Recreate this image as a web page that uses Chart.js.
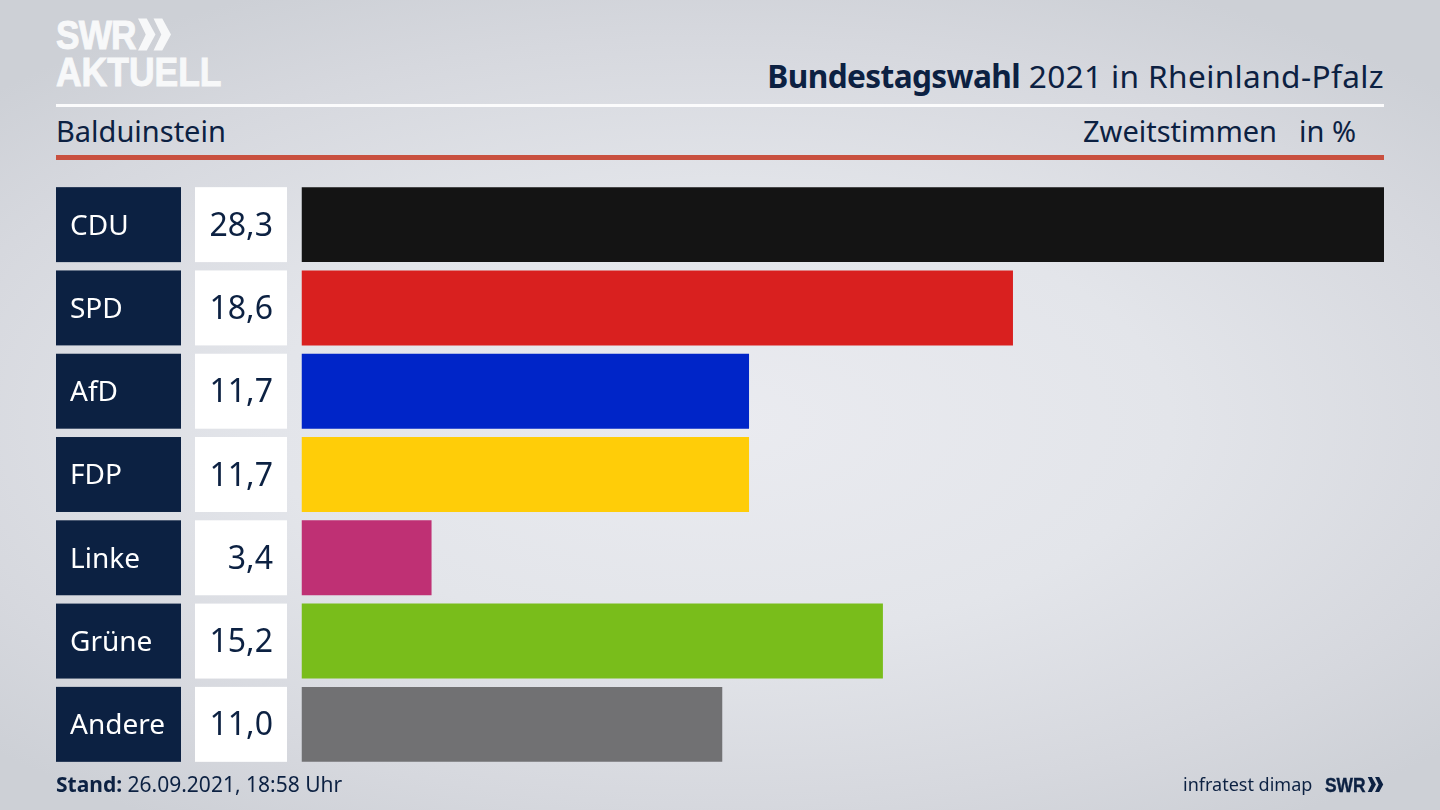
<!DOCTYPE html>
<html lang="de">
<head>
    <meta charset="UTF-8">
    <title>Bundestagswahl 2021 in Rheinland-Pfalz</title>
    <script src="https://cdn.jsdelivr.net/npm/chart.js"></script>
    <style>
        html, body {
            margin: 0;
            width: 1440px;
            height: 810px;
            overflow: hidden;
        }
        body {
            position: relative;
            font-family: "Noto Sans", sans-serif;
            color: #0c2142;
            background: radial-gradient(ellipse 1000px 480px at 50% 52%, #eaebf0 0%, #e3e5ea 45%, #d6d8de 80%, #cdd0d6 100%);
        }
        canvas { position: absolute; left: 0; top: 0; }
        .txt { position: absolute; white-space: nowrap; line-height: 1; }
        .rule { position: absolute; left: 56px; width: 1328px; }
        .logo {
            position: absolute;
            left: 56px;
            color: #f7f8f9;
            font-family: "Liberation Sans", sans-serif;
            font-weight: 700;
            font-size: 41px;
            line-height: 1;
            white-space: nowrap;
            transform-origin: left top;
            -webkit-text-stroke: 1px #f7f8f9;
        }
        svg { position: absolute; }
    </style>
</head>
<body>
    <div class="logo" style="top:15px; transform:scaleX(0.86); letter-spacing:-1px;">SWR</div>
    <svg style="left:138px; top:18px;" width="33" height="33" viewBox="0 0 34 33">
        <path d="M0 0 L9 0 L18 16.5 L9 33 L0 33 L8 16.5 Z M16 0 L25 0 L34 16.5 L25 33 L16 33 L24 16.5 Z" fill="#f7f8f9"/>
    </svg>
    <div class="logo" style="top:52px; transform:scaleX(0.865);">AKTUELL</div>

    <div class="txt" style="right:56px; top:60px; font-size:31.6px; letter-spacing:0.37px;"><b style="letter-spacing:-0.6px;">Bundestagswahl</b> 2021 in Rheinland-Pfalz</div>
    <div class="rule" style="top:104px; height:3px; background:#fbfbfc;"></div>
    <div class="txt" style="left:56px; top:116px; font-size:29px;">Balduinstein</div>
    <div class="txt" style="left:1083px; top:116px; font-size:29px;">Zweitstimmen</div>
    <div class="txt" style="left:1299px; top:116px; font-size:29px;">in %</div>
    <div class="rule" style="top:155px; height:5px; background:#c9503f;"></div>

    <canvas id="barChart" width="1440" height="810"></canvas>

    <div class="txt" style="left:56px; top:774px; font-size:21px;"><b>Stand:</b> 26.09.2021, 18:58 Uhr</div>
    <div class="txt" style="left:1183px; top:775px; font-size:18px;">infratest dimap</div>
    <div class="txt" style="left:1325px; top:775px; font-size:20px; font-family:'Liberation Sans',sans-serif; font-weight:700; transform-origin:left top; transform:scaleX(0.87); -webkit-text-stroke:0.4px #0c2142;">SWR</div>
    <svg style="left:1367px; top:777px;" width="17" height="15" viewBox="0 0 34 33">
        <path d="M0 0 L9 0 L18 16.5 L9 33 L0 33 L8 16.5 Z M16 0 L25 0 L34 16.5 L25 33 L16 33 L24 16.5 Z" fill="#0c2142"/>
    </svg>

    <script>
        const parties = ["CDU", "SPD", "AfD", "FDP", "Linke", "Grüne", "Andere"];
        const shares = [28.3, 18.6, 11.7, 11.7, 3.4, 15.2, 11.0];
        const partyColors = ["#141414", "#d9201f", "#0025c8", "#ffcd08", "#bf3074", "#79bd1b", "#717173"];

        // navy name boxes and white value boxes, placed from the y scale
        const rowBoxes = {
            id: "rowBoxes",
            beforeDraw(chart) {
                const ctx = chart.ctx;
                const bars = chart.getDatasetMeta(0).data;
                bars.forEach(bar => {
                    const top = bar.y - bar.height / 2;
                    ctx.fillStyle = "#0c2142";
                    ctx.fillRect(56, top, 125, bar.height);
                    ctx.fillStyle = "#ffffff";
                    ctx.fillRect(195, top, 92, bar.height);
                });
            },
            afterDraw(chart) {
                const ctx = chart.ctx;
                const bars = chart.getDatasetMeta(0).data;
                ctx.save();
                ctx.font = '32px "Noto Sans"';
                ctx.fillStyle = "#0c2142";
                ctx.textAlign = "right";
                ctx.textBaseline = "middle";
                bars.forEach((bar, i) => {
                    ctx.fillText(shares[i].toFixed(1).replace(".", ","), 273, bar.y + 2);
                });
                ctx.restore();
            }
        };

        new Chart(document.getElementById("barChart").getContext("2d"), {
            type: "bar",
            data: {
                labels: parties,
                datasets: [{
                    data: shares,
                    backgroundColor: partyColors,
                    barPercentage: 0.9,
                    categoryPercentage: 1
                }]
            },
            options: {
                indexAxis: "y",
                responsive: false,
                animation: false,
                layout: { padding: { left: 70, right: 56, top: 183, bottom: 44 } },
                scales: {
                    x: { display: false, min: 0, max: 28.3 },
                    y: {
                        afterFit(scale) { scale.width = 231.5; },
                        grid: { display: false },
                        border: { display: false },
                        ticks: {
                            color: "#ffffff",
                            crossAlign: "far",
                            labelOffset: 2,
                            font: { family: "Noto Sans", size: 28 }
                        }
                    }
                },
                plugins: {
                    legend: { display: false },
                    tooltip: { enabled: false }
                }
            },
            plugins: [rowBoxes]
        });
    </script>
</body>
</html>
